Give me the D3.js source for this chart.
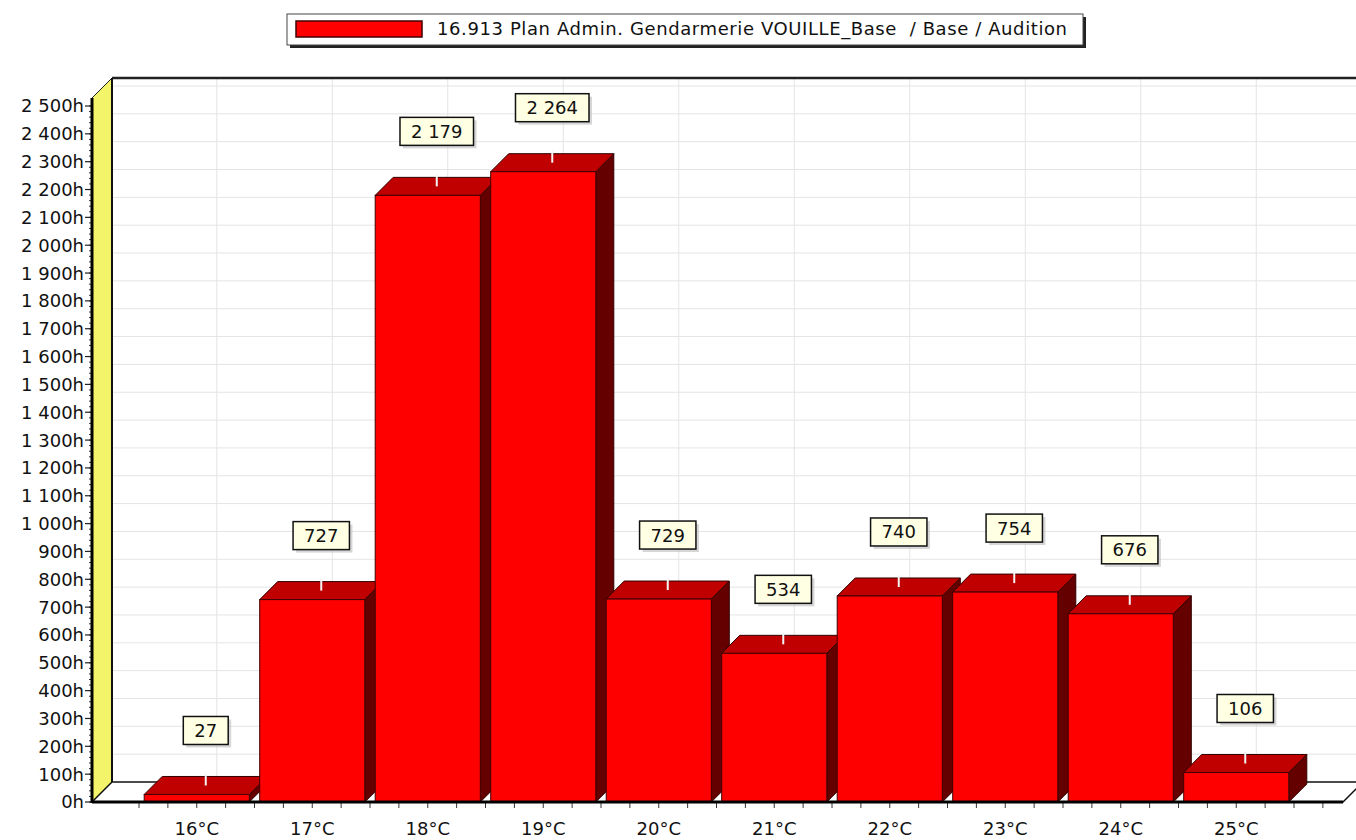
<!DOCTYPE html>
<html>
<head>
<meta charset="utf-8">
<style>
  body { margin: 0; background: #fff; }
  svg { display: block; font-family: "DejaVu Sans", sans-serif; }
  .lbl { font-size: 18px; fill: #111; }
  .leg { font-size: 18px; fill: #111; letter-spacing: 0.6px; }
</style>
<script src="https://cdnjs.cloudflare.com/ajax/libs/d3/7.8.5/d3.min.js"></script>
</head>
<body>
<svg id="chart" width="1356" height="840"></svg>
<script>
// data
const categories = ["16°C", "17°C", "18°C", "19°C", "20°C", "21°C", "22°C", "23°C", "24°C", "25°C"];
const hours = [27, 727, 2179, 2264, 729, 534, 740, 754, 676, 106];
const seriesName = "16.913 Plan Admin. Gendarmerie VOUILLE_Base  / Base / Audition";
const yMax = 2500;
const yStep = 100;

// layout
const axisL = 92, axisR = 1343, floorY = 802;
const wallD = 20;   // depth of the back wall
const barD = 18;    // depth of a bar

const fr = d3.formatLocale({ decimal: ",", thousands: "\u00a0", grouping: [3], currency: ["", ""] });
const fmt = fr.format(",d");

const svg = d3.select("#chart");

const x = d3.scaleBand()
    .domain(categories)
    .range([139, 1294])
    .paddingInner(0.09)
    .paddingOuter(0.045);

const y = d3.scaleLinear()
    .domain([0, yMax])
    .range([floorY, 106]);

const topY = y(yMax) - 8;

// back wall
svg.append("rect")
    .attr("x", axisL + wallD).attr("y", topY - wallD)
    .attr("width", 1356).attr("height", floorY - topY)
    .attr("fill", "#fff");

// grid on back wall
const gridVals = d3.range(yStep, yMax + 1, yStep);
svg.append("g").selectAll("line").data(gridVals).enter().append("line")
    .attr("x1", axisL + wallD).attr("x2", 1356)
    .attr("y1", d => y(d) - wallD).attr("y2", d => y(d) - wallD)
    .attr("stroke", "#e4e4e4").attr("stroke-width", 1);
svg.append("g").selectAll("line").data(categories).enter().append("line")
    .attr("x1", d => x(d) + x.bandwidth() / 2 + wallD)
    .attr("x2", d => x(d) + x.bandwidth() / 2 + wallD)
    .attr("y1", topY - wallD).attr("y2", floorY - wallD)
    .attr("stroke", "#e4e4e4").attr("stroke-width", 1);

// left wall (yellow)
svg.append("polygon")
    .attr("points", [[axisL, topY], [axisL + wallD, topY - wallD], [axisL + wallD, floorY - wallD], [axisL, floorY]].join(" "))
    .attr("fill", "#f4f46a").attr("stroke", "#222").attr("stroke-width", 1);

// wall edges
svg.append("line")
    .attr("x1", axisL + wallD).attr("x2", 1356)
    .attr("y1", topY - wallD).attr("y2", topY - wallD)
    .attr("stroke", "#222").attr("stroke-width", 2.5);
svg.append("line")
    .attr("x1", axisL + wallD).attr("x2", axisL + wallD)
    .attr("y1", topY - wallD).attr("y2", floorY - wallD)
    .attr("stroke", "#111").attr("stroke-width", 2);

// floor
svg.append("polygon")
    .attr("points", [[axisL, floorY], [axisR, floorY], [axisR + wallD, floorY - wallD], [axisL + wallD, floorY - wallD]].join(" "))
    .attr("fill", "#fff").attr("stroke", "#111").attr("stroke-width", 1.5);

// bars
const w = x.bandwidth();
const bars = svg.append("g").selectAll("g").data(categories).enter().append("g");
bars.append("polygon")   // side
    .attr("points", (d, i) => {
        const x1 = x(d) + w, yt = y(hours[i]);
        return [[x1, yt], [x1 + barD, yt - barD], [x1 + barD, floorY - barD], [x1, floorY]].join(" ");
    })
    .attr("fill", "#640000").attr("stroke", "#300000").attr("stroke-width", 1);
bars.append("polygon")   // top
    .attr("points", (d, i) => {
        const x0 = x(d), yt = y(hours[i]);
        return [[x0, yt], [x0 + w, yt], [x0 + w + barD, yt - barD], [x0 + barD, yt - barD]].join(" ");
    })
    .attr("fill", "#c00000").attr("stroke", "#300000").attr("stroke-width", 1);
bars.append("rect")      // front
    .attr("x", d => x(d))
    .attr("y", (d, i) => y(hours[i]))
    .attr("width", w)
    .attr("height", (d, i) => floorY - y(hours[i]))
    .attr("fill", "#ff0000").attr("stroke", "#400000").attr("stroke-width", 1);

// y axis
const yAxisG = svg.append("g");
yAxisG.selectAll("line.minor").data(d3.range(0, yMax + 1, yStep / 5)).enter().append("line")
    .attr("x1", axisL - 3).attr("x2", axisL)
    .attr("y1", d => y(d)).attr("y2", d => y(d))
    .attr("stroke", "#333").attr("stroke-width", 1);
yAxisG.selectAll("line.major").data(d3.range(0, yMax + 1, yStep)).enter().append("line")
    .attr("x1", axisL - 7).attr("x2", axisL)
    .attr("y1", d => y(d)).attr("y2", d => y(d))
    .attr("stroke", "#222").attr("stroke-width", 1.2);
yAxisG.selectAll("text").data(d3.range(0, yMax + 1, yStep)).enter().append("text")
    .attr("class", "lbl")
    .attr("x", axisL - 8).attr("y", d => y(d))
    .attr("dy", "0.36em").attr("text-anchor", "end")
    .text(d => fmt(d) + "h");
yAxisG.append("line")
    .attr("x1", axisL).attr("x2", axisL)
    .attr("y1", topY).attr("y2", floorY + 1)
    .attr("stroke", "#000").attr("stroke-width", 3);

// x axis
const xAxisG = svg.append("g");
const step = x.step();
const quarterTicks = [];
categories.forEach(c => {
    const cx = x(c) + w / 2;
    [-2, -1, 0, 1].forEach(k => quarterTicks.push(cx + k * step / 4));
});
quarterTicks.push(x(categories[categories.length - 1]) + w / 2 + step / 2);
quarterTicks.push(x(categories[categories.length - 1]) + w / 2 + step * 3 / 4);
xAxisG.selectAll("line").data(quarterTicks.filter(t => t > axisL && t < axisR)).enter().append("line")
    .attr("x1", d => d).attr("x2", d => d)
    .attr("y1", floorY).attr("y2", floorY + 6)
    .attr("stroke", "#333").attr("stroke-width", 1);
xAxisG.append("line")
    .attr("x1", axisL).attr("x2", axisR)
    .attr("y1", floorY).attr("y2", floorY)
    .attr("stroke", "#000").attr("stroke-width", 3);
xAxisG.selectAll("text").data(categories).enter().append("text")
    .attr("class", "lbl")
    .attr("x", d => x(d) + w / 2).attr("y", 835)
    .attr("text-anchor", "middle")
    .text(d => d);

// value labels
const marks = svg.append("g").selectAll("g").data(categories).enter().append("g")
    .attr("transform", (d, i) => `translate(${x(d) + w / 2 + barD / 2},${y(hours[i]) - barD / 2})`);
marks.append("line")
    .attr("x1", 0).attr("x2", 0).attr("y1", 0).attr("y2", -12)
    .attr("stroke", "#f4f4f4").attr("stroke-width", 2);
marks.each(function (d, i) {
    const g = d3.select(this);
    const t = g.append("text")
        .attr("class", "lbl")
        .attr("x", 0).attr("y", -55)
        .attr("dy", "0.36em")
        .attr("text-anchor", "middle")
        .text(fmt(hours[i]));
    const tw = t.node().getComputedTextLength() + 22;
    g.insert("rect", "text")
        .attr("x", -tw / 2 + 3).attr("y", -69 + 3)
        .attr("width", tw).attr("height", 28)
        .attr("fill", "#bbb").attr("opacity", 0.6);
    g.insert("rect", "text")
        .attr("x", -tw / 2).attr("y", -69)
        .attr("width", tw).attr("height", 28)
        .attr("fill", "#ffffe4").attr("stroke", "#111").attr("stroke-width", 1.5);
});

// legend
const lg = svg.append("g");
lg.append("rect").attr("x", 290).attr("y", 17).attr("width", 796).attr("height", 31).attr("fill", "#222");
lg.append("rect").attr("x", 287).attr("y", 14).attr("width", 796).attr("height", 31)
    .attr("fill", "#fff").attr("stroke", "#444").attr("stroke-width", 1);
lg.append("rect").attr("x", 296).attr("y", 21).attr("width", 126).attr("height", 16)
    .attr("fill", "#ff0000").attr("stroke", "#400000").attr("stroke-width", 1.5);
lg.append("text").attr("class", "leg")
    .attr("x", 437).attr("y", 29).attr("dy", "0.36em")
    .style("white-space", "pre")
    .attr("xml:space", "preserve")
    .text(seriesName);
</script>
</body>
</html>
